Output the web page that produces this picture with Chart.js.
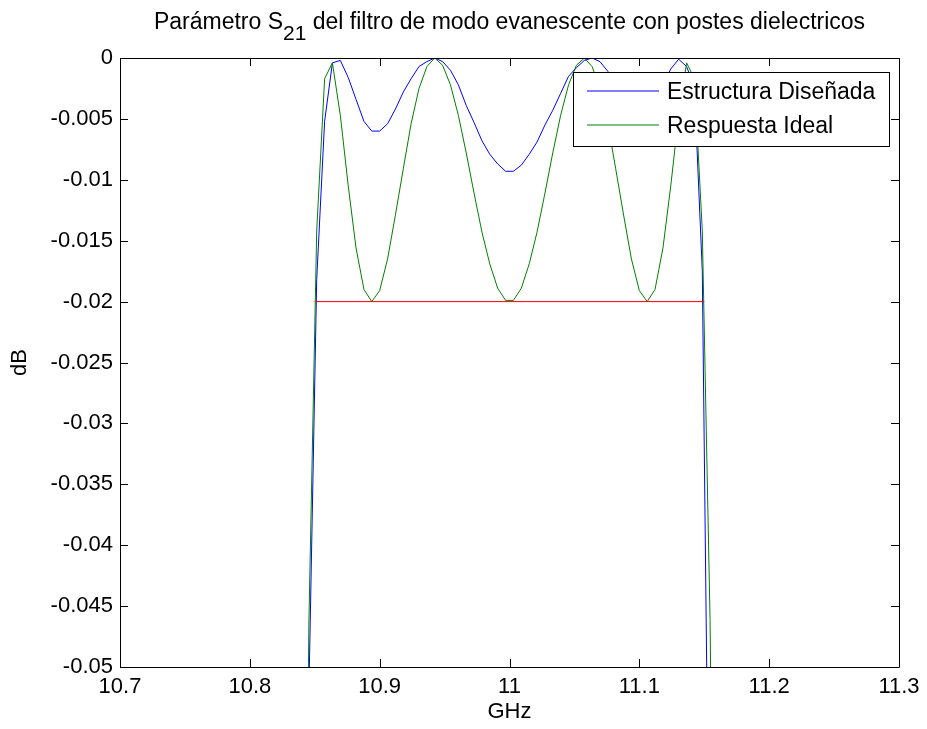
<!DOCTYPE html>
<html>
<head>
<meta charset="utf-8">
<script src="https://cdn.jsdelivr.net/npm/chart.js@4/dist/chart.umd.min.js"></script>
<style>
    html, body { margin: 0; padding: 0; background: #fff; }
</style>
</head>
<body>
<canvas id="myChart" width="927" height="729"></canvas>
<script>
// frequency points (GHz)
const freqGHz = [
    10.8394, 10.8455, 10.8515, 10.8576, 10.8636, 10.8697, 10.8758, 10.8818, 10.8879, 10.8939,
    10.9000, 10.9061, 10.9121, 10.9182, 10.9242, 10.9303, 10.9364, 10.9424, 10.9485, 10.9545,
    10.9606, 10.9667, 10.9727, 10.9788, 10.9848, 10.9909, 10.9970, 11.0030, 11.0091, 11.0152,
    11.0212, 11.0273, 11.0333, 11.0394, 11.0455, 11.0515, 11.0576, 11.0636, 11.0697, 11.0758,
    11.0818, 11.0879, 11.0939, 11.1000, 11.1061, 11.1121, 11.1182, 11.1242, 11.1303, 11.1364,
    11.1424, 11.1485, 11.1545, 11.1606
];

// Estructura Diseñada (blue)
const designedDb = [
    -0.1200, -0.0520, -0.0182, -0.0052, -0.0004, -0.0002, -0.0016, -0.0034, -0.0052, -0.0060,
    -0.0060, -0.0054, -0.0042, -0.0028, -0.0017, -0.0007, -0.0003, 0.0000, -0.0003, -0.0010,
    -0.0022, -0.0039, -0.0053, -0.0068, -0.0079, -0.0087, -0.0093, -0.0093, -0.0088, -0.0079,
    -0.0069, -0.0055, -0.0043, -0.0029, -0.0015, -0.0008, -0.0002, 0.0000, -0.0003, -0.0011,
    -0.0022, -0.0033, -0.0042, -0.0047, -0.0046, -0.0036, -0.0022, -0.0009, -0.0001, -0.0007,
    -0.0024, -0.0175, -0.0750, -0.2000
];

// Respuesta Ideal (green)
const idealDb = [
    -0.1086, -0.0462, -0.0142, -0.0017, -0.0004, -0.0047, -0.0105, -0.0156, -0.0190, -0.0200,
    -0.0191, -0.0165, -0.0129, -0.0091, -0.0054, -0.0025, -0.0007, 0.0000, -0.0006, -0.0022,
    -0.0047, -0.0078, -0.0111, -0.0143, -0.0169, -0.0189, -0.0199, -0.0199, -0.0189, -0.0169,
    -0.0143, -0.0111, -0.0078, -0.0047, -0.0022, -0.0006, 0.0000, -0.0007, -0.0025, -0.0054,
    -0.0091, -0.0129, -0.0165, -0.0191, -0.0200, -0.0190, -0.0156, -0.0105, -0.0047, -0.0004,
    -0.0017, -0.0142, -0.0462, -0.1086
];

// ripple level line (red)
const rippleFreq = [10.85, 11.15];
const rippleDb = [-0.02, -0.02];

const xTicks = [10.7, 10.8, 10.9, 11, 11.1, 11.2, 11.3];
const xTickLabels = ['10.7', '10.8', '10.9', '11', '11.1', '11.2', '11.3'];
const yTicks = [0, -0.005, -0.01, -0.015, -0.02, -0.025, -0.03, -0.035, -0.04, -0.045, -0.05];
const yTickLabels = ['0', '-0.005', '-0.01', '-0.015', '-0.02', '-0.025', '-0.03', '-0.035', '-0.04', '-0.045', '-0.05'];

const FONT = '"Liberation Sans", Arial, Helvetica, sans-serif';
const BLUE = '#0000ff', GREEN = '#008000', RED = '#ff0000';
const toPoints = (xs, ys) => xs.map((x, i) => ({ x: x, y: ys[i] }));

// box, inward ticks, legend and title (MATLAB look)
const matlabFrame = {
    id: 'matlabFrame',
    afterDraw(chart) {
        const c = chart.ctx;
        const a = chart.chartArea;
        const xs = chart.scales.x, ys = chart.scales.y;
        const tl = 8;
        c.save();
        c.strokeStyle = '#000';
        c.lineWidth = 1;
        c.beginPath();
        c.rect(Math.round(a.left) + 0.5, Math.round(a.top) + 0.5, Math.round(a.right - a.left), Math.round(a.bottom - a.top));
        c.stroke();
        c.beginPath();
        xTicks.forEach(v => {
            const px = Math.round(xs.getPixelForValue(v)) + 0.5;
            c.moveTo(px, a.bottom); c.lineTo(px, a.bottom - tl);
            c.moveTo(px, a.top); c.lineTo(px, a.top + tl);
        });
        yTicks.forEach(v => {
            const py = Math.round(ys.getPixelForValue(v)) + 0.5;
            c.moveTo(a.left, py); c.lineTo(a.left + tl, py);
            c.moveTo(a.right, py); c.lineTo(a.right - tl, py);
        });
        c.stroke();

        // legend box
        const lx = 573, ly = 72, lw = 316, lh = 74;
        c.fillStyle = '#fff';
        c.fillRect(lx, ly, lw, lh);
        c.strokeStyle = '#000';
        c.strokeRect(lx + 0.5, ly + 0.5, lw, lh);
        c.font = '23px ' + FONT;
        c.textBaseline = 'middle';
        c.textAlign = 'left';
        const entries = [[chart.data.datasets[0].label, BLUE], [chart.data.datasets[1].label, GREEN]];
        entries.forEach((e, i) => {
            const yy = ly + 19 + i * 34;
            c.strokeStyle = e[1];
            c.lineWidth = 1.2;
            c.beginPath();
            c.moveTo(lx + 14, yy); c.lineTo(lx + 86, yy);
            c.stroke();
            c.fillStyle = '#000';
            c.fillText(e[0], lx + 94, yy + 1.5);
        });

        // title with subscript
        const t1 = 'Parámetro S', sub = '21', t2 = ' del filtro de modo evanescente con postes dielectricos';
        c.font = '23px ' + FONT;
        const w1 = c.measureText(t1).width, w2 = c.measureText(t2).width;
        c.font = '21px ' + FONT;
        const ws = c.measureText(sub).width;
        let x0 = (a.left + a.right) / 2 - (w1 + ws + w2) / 2;
        const base = 29;
        c.textBaseline = 'alphabetic';
        c.fillStyle = '#000';
        c.font = '23px ' + FONT;
        c.fillText(t1, x0, base);
        c.font = '21px ' + FONT;
        c.fillText(sub, x0 + w1, base + 11);
        c.font = '23px ' + FONT;
        c.fillText(t2, x0 + w1 + ws, base);
        c.restore();
    }
};

const ctx = document.getElementById('myChart').getContext('2d');
const chart = new Chart(ctx, {
    type: 'line',
    data: {
        datasets: [
            {
                label: 'Estructura Diseñada',
                data: toPoints(freqGHz, designedDb),
                borderColor: BLUE,
                borderWidth: 1,
                pointRadius: 0,
                tension: 0,
                order: 3
            },
            {
                label: 'Respuesta Ideal',
                data: toPoints(freqGHz, idealDb),
                borderColor: GREEN,
                borderWidth: 1,
                pointRadius: 0,
                tension: 0,
                order: 2
            },
            {
                label: 'ripple',
                data: toPoints(rippleFreq, rippleDb),
                borderColor: RED,
                borderWidth: 1,
                pointRadius: 0,
                tension: 0,
                order: 1
            }
        ]
    },
    options: {
        responsive: false,
        animation: false,
        devicePixelRatio: 1,
        layout: { padding: { top: 58, right: 28, left: 0, bottom: 0 } },
        plugins: {
            legend: { display: false },
            tooltip: { enabled: false }
        },
        scales: {
            x: {
                type: 'linear',
                min: 10.7,
                max: 11.3,
                afterBuildTicks: s => { s.ticks = xTicks.map(v => ({ value: v })); },
                afterFit: s => { s.height = 62; },
                ticks: {
                    autoSkip: false,
                    maxRotation: 0,
                    padding: 7,
                    color: '#000',
                    font: { family: FONT, size: 22 },
                    callback: (v, i) => xTickLabels[i]
                },
                grid: { display: false, drawTicks: false },
                border: { display: false },
                title: {
                    display: true,
                    text: 'GHz',
                    color: '#000',
                    font: { family: FONT, size: 22 },
                    padding: { top: 0, bottom: 4 }
                }
            },
            y: {
                type: 'linear',
                min: -0.05,
                max: 0,
                afterBuildTicks: s => { s.ticks = yTicks.map(v => ({ value: v })); },
                afterFit: s => { s.width = 120; },
                ticks: {
                    autoSkip: false,
                    padding: 7,
                    color: '#000',
                    font: { family: FONT, size: 22 },
                    callback: (v, i) => yTickLabels[i]
                },
                grid: { display: false, drawTicks: false },
                border: { display: false },
                title: {
                    display: true,
                    text: 'dB',
                    color: '#000',
                    font: { family: FONT, size: 22 },
                    padding: { top: 7, bottom: 0 }
                }
            }
        }
    },
    plugins: [matlabFrame]
});
</script>
</body>
</html>
